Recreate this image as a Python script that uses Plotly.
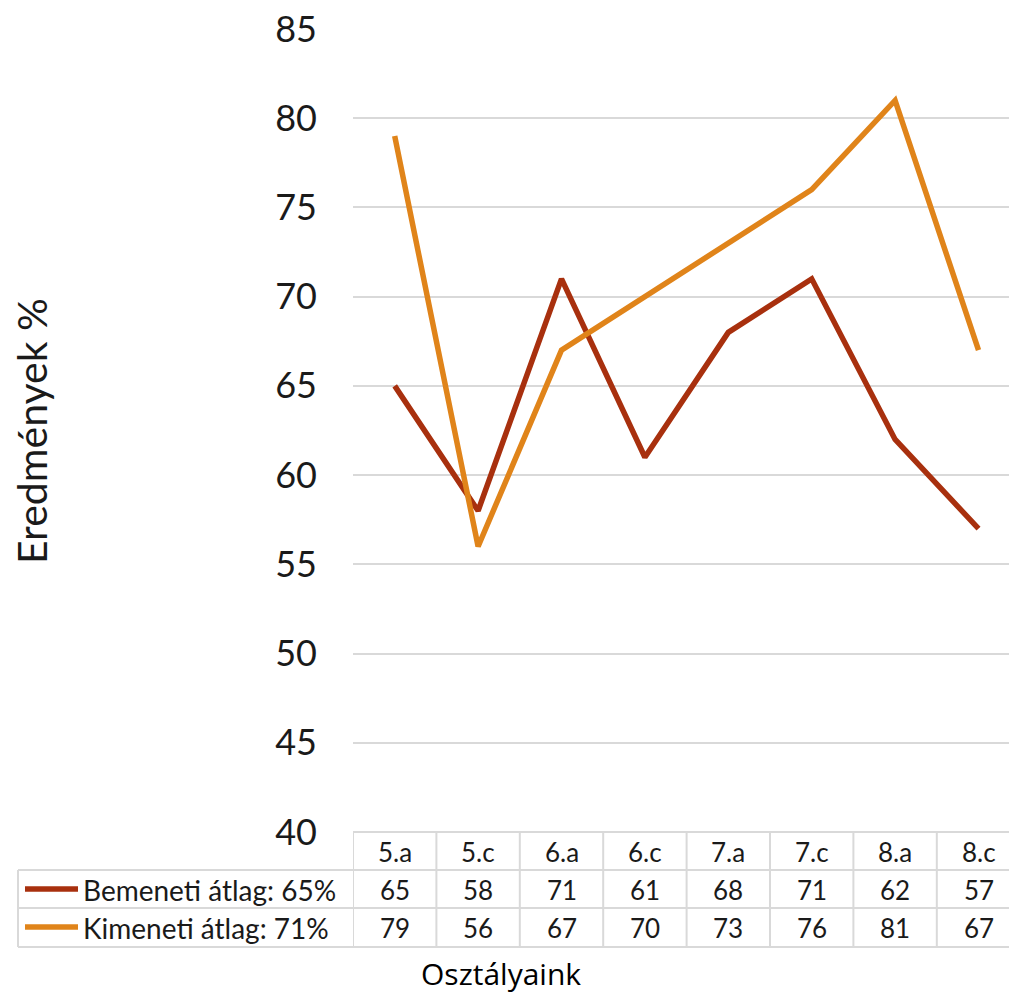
import plotly.graph_objects as go

categories = ["5.a", "5.c", "6.a", "6.c", "7.a", "7.c", "8.a", "8.c"]
bemeneti = [65, 58, 71, 61, 68, 71, 62, 57]
kimeneti = [79, 56, 67, 70, 73, 76, 81, 67]
series_names = ["Bemeneti átlag: 65%", "Kimeneti átlag: 71%"]
y_ticks = [40, 45, 50, 55, 60, 65, 70, 75, 80, 85]

W, H = 1009, 995
L, R, T, B = 353, 0, 29, 163
PW, PH = W - L - R, H - T - B
COLW = 83.4
x_max = -0.5 + PW / COLW

c_bem = "#a8300e"
c_kim = "#e0841a"
grid = "#d9d9d9"
font_main = "Lato, 'Open Sans', sans-serif"

def px_x(px):
    return (px - L) / PW

def px_y(py):
    return (H - B - py) / PH

fig = go.Figure()
fig.add_trace(go.Scatter(x=list(range(len(categories))), y=bemeneti, mode="lines",
                         line=dict(color=c_bem, width=5.5), name=series_names[0]))
fig.add_trace(go.Scatter(x=list(range(len(categories))), y=kimeneti, mode="lines",
                         line=dict(color=c_kim, width=5.5), name=series_names[1]))

shapes = []
annotations = []
row_tops = [832, 870, 908, 947]
shapes.append(dict(type="line", xref="paper", yref="paper", x0=0, x1=1,
                   y0=px_y(832), y1=px_y(832), line=dict(color=grid, width=2)))
for yy in row_tops[1:]:
    shapes.append(dict(type="line", xref="paper", yref="paper", x0=px_x(18), x1=1,
                       y0=px_y(yy), y1=px_y(yy), line=dict(color=grid, width=2)))
for i in range(len(categories) + 1):
    xb = i - 0.5
    if xb > x_max:
        continue
    shapes.append(dict(type="line", xref="x", yref="paper", x0=xb, x1=xb,
                       y0=px_y(832), y1=px_y(947), line=dict(color=grid, width=2)))
shapes.append(dict(type="line", xref="paper", yref="paper", x0=px_x(18), x1=px_x(18),
                   y0=px_y(870), y1=px_y(947), line=dict(color=grid, width=2)))

cell_font = dict(size=26, color="#1a1a1a", family=font_main)
for i, cat in enumerate(categories):
    for txt, yc in [(cat, 852), (str(bemeneti[i]), 890), (str(kimeneti[i]), 928)]:
        annotations.append(dict(x=i, y=px_y(yc), xref="x", yref="paper", text=txt,
                                showarrow=False, xanchor="center", yanchor="middle",
                                font=cell_font))

for name, col, yc in [(series_names[0], c_bem, 889), (series_names[1], c_kim, 927)]:
    shapes.append(dict(type="line", xref="paper", yref="paper", x0=px_x(25), x1=px_x(78),
                       y0=px_y(yc), y1=px_y(yc), line=dict(color=col, width=5.5)))
    annotations.append(dict(x=px_x(81), y=px_y(yc + 1), xref="paper", yref="paper", text=name,
                            showarrow=False, xanchor="left", yanchor="middle",
                            font=dict(size=28, color="#1a1a1a", family=font_main)))

annotations.append(dict(x=px_x(501), y=px_y(973), xref="paper", yref="paper", text="Osztályaink",
                        showarrow=False, xanchor="center", yanchor="middle",
                        font=dict(size=30, color="#000000", family="'Open Sans', sans-serif")))
annotations.append(dict(x=px_x(31), y=px_y(431), xref="paper", yref="paper", text="Eredmények %",
                        showarrow=False, textangle=-90, xanchor="center", yanchor="middle",
                        font=dict(size=41, color="#1a1a1a", family=font_main)))

fig.update_layout(
    width=W, height=H,
    margin=dict(l=L, r=R, t=T, b=B),
    plot_bgcolor="white", paper_bgcolor="white",
    showlegend=False,
    shapes=shapes, annotations=annotations,
    xaxis=dict(range=[-0.5, x_max], showticklabels=False, showgrid=False,
               zeroline=False, showline=False, fixedrange=True),
    yaxis=dict(range=[40, 85], tickvals=y_ticks, showgrid=True, gridcolor=grid, gridwidth=2,
               zeroline=False, showline=False, ticklabelstandoff=35,
               tickfont=dict(size=36, color="#1a1a1a", family=font_main)),
)

fig.write_html("out.html", config={"displayModeBar": False},
               post_script="document.body.style.margin='0';document.body.style.overflow='hidden';")
